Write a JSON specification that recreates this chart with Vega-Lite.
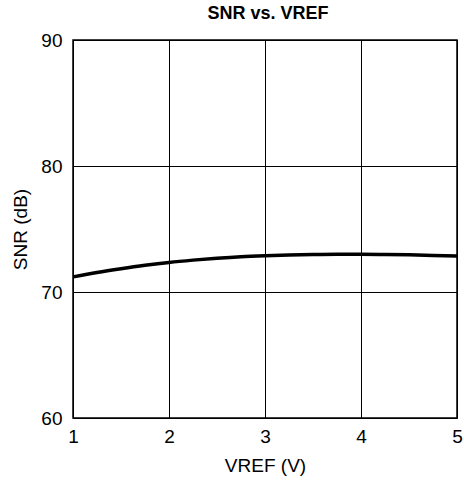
{
  "$schema": "https://vega.github.io/schema/vega-lite/v6.json",
  "autosize": "none",
  "width": 384,
  "height": 378,
  "padding": {"left": 73, "top": 40, "right": 7, "bottom": 71},
  "background": "white",
  "title": {
    "text": "SNR vs. VREF",
    "font": "Liberation Sans",
    "fontSize": 18,
    "fontWeight": "bold",
    "color": "black",
    "offset": 8,
    "anchor": "middle",
    "dx": 3
  },
  "data": {
    "values": [
      {"v": 1.0, "snr": 71.2},
      {"v": 1.25, "snr": 71.55},
      {"v": 1.5, "snr": 71.85},
      {"v": 1.75, "snr": 72.12},
      {"v": 2.0, "snr": 72.35},
      {"v": 2.25, "snr": 72.53},
      {"v": 2.5, "snr": 72.68},
      {"v": 2.75, "snr": 72.8},
      {"v": 3.0, "snr": 72.88},
      {"v": 3.25, "snr": 72.94},
      {"v": 3.5, "snr": 72.98},
      {"v": 3.75, "snr": 73.0},
      {"v": 4.0, "snr": 73.0},
      {"v": 4.25, "snr": 72.98},
      {"v": 4.5, "snr": 72.95},
      {"v": 4.75, "snr": 72.9},
      {"v": 5.0, "snr": 72.85}
    ]
  },
  "mark": {"type": "line", "color": "black", "strokeWidth": 3.5, "interpolate": "monotone"},
  "encoding": {
    "x": {
      "field": "v",
      "type": "quantitative",
      "scale": {"domain": [1, 5], "nice": false},
      "axis": {
        "values": [1, 2, 3, 4, 5],
        "title": "VREF (V)",
        "grid": true,
        "gridColor": "black",
        "gridOpacity": 1,
        "gridWidth": 1,
        "domain": false,
        "ticks": false,
        "labelFont": "Liberation Sans",
        "labelFontSize": 19,
        "labelColor": "black",
        "labelPadding": 9,
        "labelFlush": false,
        "titleFont": "Liberation Sans",
        "titleFontSize": 19,
        "titleFontWeight": "normal",
        "titleColor": "black",
        "titlePadding": 10
      }
    },
    "y": {
      "field": "snr",
      "type": "quantitative",
      "scale": {"domain": [60, 90], "nice": false, "zero": false},
      "axis": {
        "values": [60, 70, 80, 90],
        "title": "SNR (dB)",
        "grid": true,
        "gridColor": "black",
        "gridOpacity": 1,
        "gridWidth": 1,
        "domain": false,
        "ticks": false,
        "labelFont": "Liberation Sans",
        "labelFontSize": 19,
        "labelColor": "black",
        "labelPadding": 11,
        "labelFlush": false,
        "titleFont": "Liberation Sans",
        "titleFontSize": 19,
        "titleFontWeight": "normal",
        "titleColor": "black",
        "titlePadding": 10
      }
    }
  },
  "config": {
    "view": {"stroke": "black", "strokeWidth": 1.5}
  }
}
